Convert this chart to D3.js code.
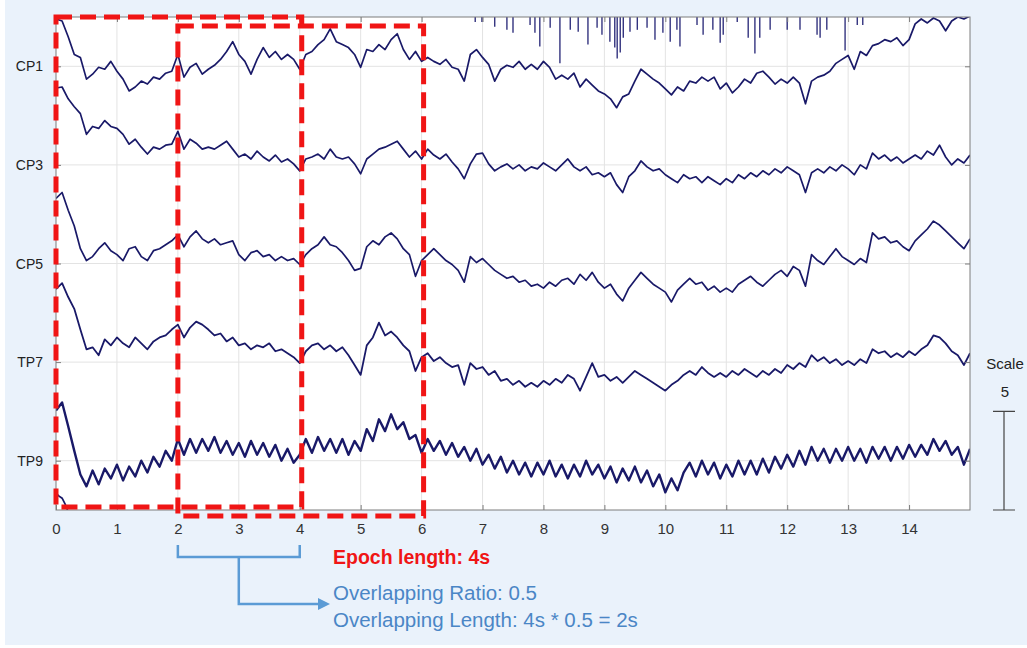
<!DOCTYPE html>
<html>
<head>
<meta charset="utf-8">
<script src="https://cdn.jsdelivr.net/npm/d3@7"></script>
<style>
body { margin: 0; background: #ffffff; }
svg text { font-family: Arial, "Liberation Sans", sans-serif; }
</style>
</head>
<body>
<svg id="plot" width="1027" height="648"></svg>
<script>
// channel names and their vertical offsets (scale units, 5 per row)
var channels = ['CP1', 'CP3', 'CP5', 'TP7', 'TP9'];
var offsets = [20, 15, 10, 5, 0];

// one sample every 0.1 s, 0 .. 15 s
var cp1 = [2.4,2.3,1.5,0.6,0.45,-0.65,-0.4,-0.05,-0.15,0.25,
	-0.25,-0.65,-1.25,-1.05,-0.75,-0.9,-0.55,-0.65,-0.35,-0.25,
	0.6,-0.55,-0.05,0.15,-0.4,-0.15,0.05,0.35,0.75,1.25,
	0.6,0.25,-0.4,0.35,0.95,0.45,0.75,0.35,0.6,0.35,
	-0.15,0.6,0.75,1.1,1.35,1.9,1.25,1.1,0.95,0.6,
	-0.05,0.85,0.75,1.1,0.85,1.35,1.65,0.85,0.35,0.75,
	0.25,0.45,0.25,0.1,0.35,-0.05,-0.15,-0.75,0.6,0.85,
	0.45,0.1,-0.75,-0.15,0.05,-0.05,0.25,-0.15,0.1,-0.15,
	0.25,-0.05,-0.65,-0.45,-0.65,-0.35,-1.05,-0.65,-0.95,-1.25,
	-1.4,-1.65,-2.1,-1.55,-1.4,-0.75,-0.15,-0.4,-0.65,-0.85,
	-1.15,-1.45,-1.05,-1.25,-0.75,-0.85,-0.55,-0.75,-0.55,-1.15,
	-0.85,-1.35,-1.05,-0.65,-0.85,-0.35,-0.25,-0.55,-0.9,-0.65,
	-0.85,-0.55,-0.85,-1.9,-0.75,-0.55,-0.45,-0.25,0.15,0.35,
	0.55,-0.15,0.75,0.55,1.05,1.15,1.35,1.25,1.45,1.05,
	1.35,2.15,2.4,2.2,2.45,2.3,1.8,2.3,2.5,2.4,
	2.55];
var cp3 = [3.9,3.95,3.35,2.95,2.6,1.55,1.95,1.85,2.25,1.95,
	1.85,1.55,1.05,1.3,0.9,0.55,0.9,0.8,1.0,1.05,
	1.7,0.8,1.3,1.1,0.8,0.9,0.8,1.0,1.2,0.8,
	0.4,0.55,0.3,0.7,0.4,0.2,0.5,0.15,0.3,0.05,
	-0.3,0.3,0.4,0.55,0.3,0.8,0.4,0.3,0.4,0.05,
	-0.45,0.3,0.55,0.8,0.9,1.05,1.2,0.8,0.4,0.7,
	0.3,0.8,0.5,0.3,0.55,0.15,-0.2,-0.7,0.05,0.55,
	0.6,0.05,-0.3,-0.1,0.05,-0.2,0,-0.3,-0.1,-0.2,
	0.1,-0.1,-0.3,0,0.3,-0.1,-0.3,-0.1,-0.5,-0.4,
	-0.6,-0.4,-1.0,-1.4,-0.6,-0.3,0.2,-0.1,-0.3,-0.2,
	-0.5,-0.7,-0.9,-0.5,-0.7,-0.6,-0.9,-0.6,-0.8,-1.0,
	-0.7,-0.9,-0.5,-0.7,-0.4,-0.6,-0.3,-0.5,-0.2,-0.4,
	-0.1,-0.3,-0.5,-1.4,-0.4,-0.2,-0.4,-0.1,-0.3,0,
	-0.2,-0.5,0,-0.2,0.6,0.3,0.5,0.2,0.4,0.1,
	0.3,0.5,0.3,0.7,0.5,1.0,0.4,0,0.3,0.1,
	0.5];
var cp5 = [3.3,3.6,2.7,1.9,0.75,0.15,0.35,0.75,1.05,0.65,
	0.45,0.15,0.75,0.85,0.35,0.15,0.65,0.75,0.95,1.15,
	1.45,0.85,1.35,1.65,1.25,1.05,1.25,0.95,1.05,1.15,
	0.45,0.15,0.55,0.65,0.35,0.45,0.15,0.35,0.15,0.25,
	-0.05,0.45,0.75,0.95,1.35,0.95,0.85,0.55,0.15,-0.35,
	-0.25,0.85,1.15,0.95,1.35,1.55,1.25,0.75,0.45,-0.65,
	0.15,0.45,0.75,0.45,0.15,-0.05,-0.35,-0.95,0.35,0.05,
	0.25,-0.05,-0.35,-0.55,-0.75,-0.65,-0.95,-0.85,-1.15,-1.05,
	-1.25,-0.95,-1.15,-0.85,-0.75,-1.05,-0.55,-0.85,-0.45,-0.95,
	-1.25,-1.05,-1.55,-1.9,-1.25,-0.85,-0.45,-0.75,-1.05,-1.25,
	-1.45,-1.95,-1.35,-1.05,-0.75,-1.05,-0.95,-1.35,-1.15,-1.45,
	-1.25,-1.45,-1.05,-0.85,-0.65,-0.95,-1.15,-0.85,-0.55,-0.35,
	-0.65,-0.15,-0.35,-1.15,0.45,0.15,-0.05,0.35,0.75,0.35,
	0.15,-0.05,0.25,0.05,1.55,1.25,1.35,1.05,1.15,0.85,
	0.65,1.15,1.45,1.75,2.15,1.95,1.65,1.35,1.05,0.75,
	1.25];
var tp7 = [3.7,4.0,3.3,2.7,1.65,0.65,0.75,0.35,1.15,0.85,
	1.25,0.95,0.75,1.25,0.95,0.65,1.05,1.25,1.35,1.65,
	1.9,1.25,1.75,2.05,1.9,1.65,1.35,1.45,1.05,1.25,
	0.85,0.95,0.65,0.85,0.75,0.95,0.55,0.65,0.45,0.25,
	-0.05,0.55,0.85,0.95,0.65,0.85,0.55,0.75,0.35,-0.15,
	-0.65,0.85,1.25,2.0,1.35,1.55,1.25,0.85,0.55,-0.45,
	0.25,0.45,0.05,0.25,-0.05,-0.25,-0.15,-1.15,-0.05,-0.35,
	-0.25,-0.65,-0.45,-0.95,-0.85,-1.15,-0.95,-1.25,-1.05,-1.25,
	-0.95,-1.15,-0.85,-1.05,-0.65,-0.85,-1.45,-0.75,-0.05,-0.75,
	-0.65,-0.95,-0.75,-1.05,-0.75,-0.45,-0.65,-0.85,-1.05,-1.25,
	-1.45,-1.15,-0.95,-0.65,-0.45,-0.65,-0.25,-0.55,-0.75,-0.55,
	-0.75,-0.45,-0.65,-0.35,-0.55,-0.75,-0.45,-0.65,-0.35,-0.55,
	-0.15,-0.35,-0.05,-0.25,0.35,0.05,0.25,-0.05,0.15,-0.15,
	0.05,-0.15,0.15,-0.05,0.65,0.45,0.55,0.25,0.45,0.25,
	0.55,0.35,0.65,0.85,1.35,1.25,0.95,0.55,0.35,-0.15,
	0.45];
var tp9 = [2.55,2.95,1.75,0.5,-0.7,-1.3,-0.5,-1.2,-0.4,-0.9,
	-0.2,-1.0,-0.3,-0.8,0,-0.6,0.2,-0.3,0.5,0,
	1.1,0.3,1.1,0.4,1.1,0.5,1.2,0.4,1.0,0.3,
	0.9,0.2,1.0,0.3,0.9,0.2,0.8,0,0.6,-0.1,
	0.3,1.1,0.4,1.2,0.5,1.1,0.4,1.1,0.3,1.0,
	0.5,1.6,1.0,2.1,1.5,2.35,1.6,1.95,1.1,1.3,
	0.4,1.1,0.5,1.0,0.3,0.9,0.2,0.7,0,0.6,
	-0.2,0.3,-0.4,0.2,-0.6,0,-0.7,-0.1,-0.8,-0.1,
	-0.7,0,-0.8,-0.2,-0.9,-0.2,-0.8,0,-0.7,-0.2,
	-0.9,-0.3,-1.1,-0.4,-1.0,-0.3,-1.1,-0.5,-1.3,-0.7,
	-1.6,-0.9,-1.5,-0.6,-0.1,-0.8,0,-0.7,-0.1,-0.9,
	-0.2,-0.8,0,-0.7,0,-0.7,0.1,-0.6,0.2,-0.4,
	0.3,-0.3,0.5,-0.2,0.7,0,0.6,-0.1,0.6,0,
	0.7,0,0.6,-0.1,0.7,0.1,0.7,0,0.7,0.1,
	0.8,0.2,0.8,0.3,1.1,0.5,1.0,0.3,0.7,-0.2,
	0.6];
var traces = [cp1, cp3, cp5, tp7, tp9];
// TP9 is a much denser band than the others
var traceWidth = [1.7, 1.7, 1.7, 1.8, 2.4];

// channel above the plot: only its downward spikes reach into view
var upperOffset = 25;
var spikeT = [6.88,6.99,7.2,7.4,7.5,7.78,7.86,7.94,8.11,8.27,8.44,8.57,8.73,8.88,8.96,
	9.09,9.17,9.21,9.26,9.31,9.42,9.54,9.7,9.83,9.96,10.08,10.19,10.24,10.52,10.62,
	10.78,10.9,10.95,11.18,11.36,11.47,11.55,11.72,12.0,12.21,12.49,12.54,12.65,12.95,13.15,13.24];
var spikeV = [-2.75,-2.75,-3.0,-3.15,-3.3,-2.9,-3.3,-4.0,-3.05,-4.85,-3.15,-3.25,-3.9,-3.05,-3.4,
	-3.75,-4.05,-4.6,-4.3,-3.55,-3.25,-3.15,-3.05,-3.65,-3.3,-3.75,-3.15,-4.0,-2.9,-3.4,
	-3.15,-3.8,-3.4,-2.75,-3.55,-4.35,-3.55,-3.15,-3.15,-3.15,-3.4,-3.55,-3.15,-4.2,-2.9,-2.9];

// channel below the plot: its start pokes in at the bottom left
var lowerOffset = -5;
var lowerT = [0, 0.05, 0.1, 0.15, 0.2, 0.25];
var lowerV = [3.35, 3.2, 3.1, 2.8, 2.4, 2.0];

var xTicks = [0,1,2,3,4,5,6,7,8,9,10,11,12,13,14];
var epochStart = [0, 2];
var epochEnd = [4, 6];
var scaleValue = 5;
var epochLabel = 'Epoch length: 4s';
var overlapLabels = ['Overlapping Ratio: 0.5', 'Overlapping Length: 4s * 0.5 = 2s'];

function whenDocumentLoaded(action) {
	if (document.readyState === "loading") {
		document.addEventListener("DOMContentLoaded", action);
	} else {
		action();
	}
}

function drawChart() {
	var svg = d3.select("#plot");
	var left = 56, right = 970, top = 17, bottom = 510;

	var x = d3.scaleLinear().domain([0, 15]).range([left, right]);
	var y = d3.scaleLinear().domain([-2.5, 22.5]).range([bottom, top]);

	svg.append("rect").attr("x", 5).attr("y", 0).attr("width", 1022).attr("height", 645)
		.attr("fill", "#eaf2fb");
	svg.append("rect").attr("x", left).attr("y", top).attr("width", right - left).attr("height", bottom - top)
		.attr("fill", "#ffffff");

	// grid
	var grid = svg.append("g").attr("stroke", "#e3e3e3").attr("stroke-width", 1);
	grid.selectAll("line.v").data(xTicks.slice(1)).enter().append("line")
		.attr("x1", d => x(d)).attr("x2", d => x(d)).attr("y1", top).attr("y2", bottom);
	grid.selectAll("line.h").data(offsets).enter().append("line")
		.attr("x1", left).attr("x2", right).attr("y1", d => y(d)).attr("y2", d => y(d));

	svg.append("clipPath").attr("id", "clip").append("rect")
		.attr("x", left).attr("y", top).attr("width", right - left).attr("height", bottom - top);

	var traceColor = "#191968";
	var plotArea = svg.append("g").attr("clip-path", "url(#clip)");

	for (var c = 0; c < traces.length; c++) {
		var off = offsets[c];
		var line = d3.line()
			.x((d, i) => x(i / 10))
			.y(d => y(off + d));
		plotArea.append("path")
			.attr("d", line(traces[c]))
			.attr("fill", "none")
			.attr("stroke", traceColor)
			.attr("stroke-width", traceWidth[c])
			.attr("stroke-linejoin", "round");
	}

	plotArea.selectAll("line.spike").data(spikeT).enter().append("line")
		.attr("x1", d => x(d)).attr("x2", d => x(d))
		.attr("y1", top)
		.attr("y2", (d, i) => y(upperOffset + spikeV[i]))
		.attr("stroke", "#33337f").attr("stroke-width", 1.4);

	var lowLine = d3.line().x(d => x(d)).y((d, i) => y(lowerOffset + lowerV[i]));
	plotArea.append("path").attr("d", lowLine(lowerT))
		.attr("fill", "none").attr("stroke", traceColor).attr("stroke-width", 1.7);

	// frame and inward ticks
	svg.append("rect").attr("x", left).attr("y", top).attr("width", right - left).attr("height", bottom - top)
		.attr("fill", "none").attr("stroke", "#7d7d7d").attr("stroke-width", 1);

	var xAxis = svg.append("g").attr("transform", "translate(0," + bottom + ")")
		.call(d3.axisBottom(x).tickValues(xTicks).tickSize(-5).tickPadding(13).tickFormat(d3.format("d")));
	xAxis.select(".domain").remove();
	xAxis.selectAll("line").attr("stroke", "#7d7d7d");
	xAxis.selectAll("text").attr("font-size", 15).attr("fill", "#333").attr("font-family", "Arial, 'Liberation Sans', sans-serif");

	var topAxis = svg.append("g").attr("transform", "translate(0," + top + ")")
		.call(d3.axisTop(x).tickValues(xTicks).tickSize(-5).tickFormat(""));
	topAxis.select(".domain").remove();
	topAxis.selectAll("line").attr("stroke", "#7d7d7d");

	var rightAxis = svg.append("g").attr("transform", "translate(" + right + ",0)")
		.call(d3.axisRight(y).tickValues(offsets).tickSize(-5).tickFormat(""));
	rightAxis.select(".domain").remove();
	rightAxis.selectAll("line").attr("stroke", "#7d7d7d");

	var leftAxis = svg.append("g").attr("transform", "translate(" + left + ",0)")
		.call(d3.axisLeft(y).tickValues(offsets).tickSize(-5).tickFormat(""));
	leftAxis.select(".domain").remove();
	leftAxis.selectAll("line").attr("stroke", "#7d7d7d");

	svg.selectAll("text.chan").data(channels).enter().append("text")
		.attr("x", 43).attr("y", (d, i) => y(offsets[i]))
		.attr("text-anchor", "end").attr("dominant-baseline", "central")
		.attr("font-size", 14).attr("fill", "#222").text(d => d);

	// epoch windows
	var red = "#f01515";
	var shift = [0, 9];
	svg.selectAll("rect.epoch").data(epochStart).enter().append("rect")
		.attr("x", d => x(d))
		.attr("y", (d, i) => top + shift[i])
		.attr("width", (d, i) => x(epochEnd[i]) - x(d) + 2)
		.attr("height", (d, i) => bottom - top - 3)
		.attr("fill", "none").attr("stroke", red).attr("stroke-width", 5)
		.attr("stroke-dasharray", "16 8");

	// overlap bracket
	var blue = "#5b9bd5";
	var bx0 = x(epochStart[1]), bx1 = x(epochEnd[0]);
	var bmid = (bx0 + bx1) / 2;
	svg.append("path")
		.attr("d", "M" + bx0 + ",545 V557 H" + bx1 + " V545")
		.attr("fill", "none").attr("stroke", blue).attr("stroke-width", 2.5);
	svg.append("path")
		.attr("d", "M" + bmid + ",557 V604 H320")
		.attr("fill", "none").attr("stroke", blue).attr("stroke-width", 2.5);
	svg.append("path").attr("d", "M318,598 L330,604 L318,610 Z").attr("fill", blue);

	svg.append("text").attr("x", 333).attr("y", 564)
		.attr("font-size", 19.5).attr("font-weight", "bold").attr("fill", red).text(epochLabel);
	svg.selectAll("text.ov").data(overlapLabels).enter().append("text")
		.attr("x", 333).attr("y", (d, i) => 600 + i * 27)
		.attr("font-size", 20.5).attr("fill", "#4a86c6").text(d => d);

	// scale bar
	var sx = 1004;
	svg.append("text").attr("x", sx + 1).attr("y", 369).attr("text-anchor", "middle")
		.attr("font-size", 15).attr("fill", "#222").text("Scale");
	svg.append("text").attr("x", sx + 1).attr("y", 397).attr("text-anchor", "middle")
		.attr("font-size", 15).attr("fill", "#222").text(scaleValue);
	var sTop = y(-2.5 + scaleValue), sBot = y(-2.5);
	svg.append("path")
		.attr("d", "M" + (sx - 11) + "," + sTop + " H" + (sx + 11) + " M" + sx + "," + sTop + " V" + sBot +
			" M" + (sx - 11) + "," + sBot + " H" + (sx + 11))
		.attr("fill", "none").attr("stroke", "#444").attr("stroke-width", 1.2);
}

whenDocumentLoaded(drawChart);
</script>
</body>
</html>
